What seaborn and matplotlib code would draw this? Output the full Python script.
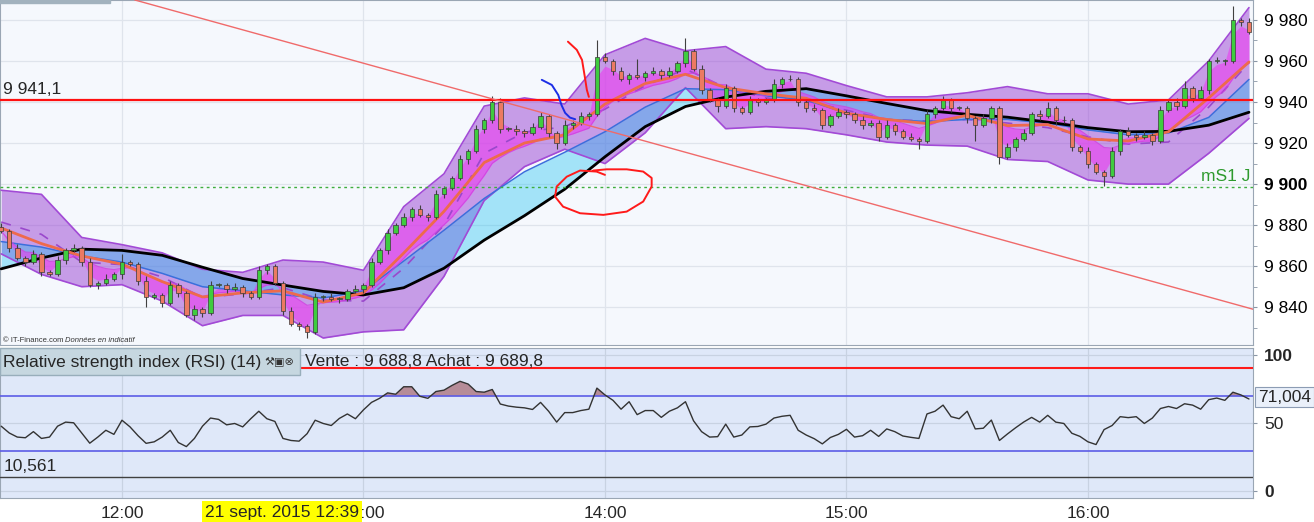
import numpy as np
import pandas as pd
import matplotlib
matplotlib.use("Agg")
import matplotlib.pyplot as plt
import matplotlib.dates as mdates
from matplotlib.patches import Rectangle
from matplotlib.ticker import MultipleLocator
import seaborn as sns

day = "2015-09-21"

# 2 minute candles from 11:30 (open of the first one, then closes)
first_open = 9879
closes = [9877, 9869, 9864, 9862, 9866, 9857, 9856, 9863, 9868, 9869,
          9862, 9851, 9852, 9854, 9856, 9862, 9861, 9853, 9845, 9846,
          9842, 9851, 9847, 9836, 9839, 9837, 9851, 9851, 9849, 9850,
          9847, 9845, 9858, 9860, 9852, 9838, 9832, 9831, 9828, 9845,
          9845, 9844, 9844, 9848, 9849, 9851, 9862, 9868, 9876, 9880,
          9884, 9888, 9885, 9884, 9895, 9898, 9903, 9912, 9916, 9927,
          9931, 9940, 9927, 9927, 9926, 9925, 9928, 9933, 9925, 9920,
          9929, 9930, 9933, 9934, 9962, 9960, 9955, 9951, 9953, 9952,
          9954, 9955, 9953, 9955, 9959, 9965, 9956, 9946, 9941, 9938,
          9947, 9937, 9935, 9941, 9940, 9941, 9949, 9951, 9951, 9940,
          9937, 9936, 9929, 9933, 9935, 9934, 9931, 9929, 9930, 9923,
          9929, 9926, 9923, 9922, 9921, 9934, 9937, 9941, 9937, 9937,
          9932, 9929, 9932, 9937, 9913, 9918, 9922, 9925, 9934, 9933,
          9937, 9931, 9931, 9918, 9916, 9910, 9906, 9904, 9916, 9926,
          9924, 9923, 9924, 9921, 9936, 9940, 9938, 9947, 9942, 9946,
          9960, 9960, 9960, 9980, 9979, 9974]
wick_hi = [2, 1, 2, 1, 2, 1, 1, 2, 1, 2,
           1, 2, 1, 2, 1, 4, 1, 1, 2, 1,
           1, 2, 1, 1, 2, 1, 2, 1, 1, 2,
           1, 1, 2, 1, 1, 1, 2, 1, 1, 2,
           1, 2, 1, 1, 2, 1, 2, 1, 2, 1,
           2, 1, 2, 1, 2, 1, 1, 2, 1, 2,
           1, 3, 2, 1, 2, 1, 2, 2, 1, 1,
           2, 1, 2, 1, 8, 2, 1, 2, 1, 8,
           1, 2, 1, 2, 1, 6, 1, 2, 1, 1,
           2, 1, 1, 2, 1, 1, 2, 1, 2, 1,
           1, 2, 1, 1, 2, 1, 1, 2, 1, 1,
           2, 1, 1, 2, 1, 2, 1, 2, 1, 1,
           1, 1, 2, 1, 1, 2, 1, 2, 1, 2,
           3, 1, 2, 1, 1, 2, 1, 1, 2, 1,
           2, 1, 2, 1, 2, 1, 2, 3, 1, 2,
           1, 2, 1, 7, 1, 2]
wick_lo = [1, 2, 1, 2, 1, 2, 1, 1, 2, 1,
           2, 1, 2, 1, 1, 2, 1, 2, 5, 1,
           2, 1, 2, 1, 2, 2, 1, 1, 2, 1,
           2, 1, 1, 2, 1, 2, 1, 2, 3, 1,
           2, 1, 2, 1, 1, 2, 1, 1, 2, 1,
           1, 2, 1, 2, 1, 2, 1, 1, 2, 1,
           2, 1, 2, 1, 2, 2, 1, 1, 2, 3,
           1, 2, 1, 2, 1, 1, 2, 1, 2, 1,
           2, 1, 2, 1, 1, 2, 1, 2, 1, 3,
           1, 2, 1, 1, 2, 1, 1, 2, 1, 2,
           2, 1, 2, 1, 1, 2, 1, 2, 1, 2,
           1, 2, 1, 1, 4, 1, 2, 1, 2, 1,
           2, 8, 1, 2, 3, 1, 2, 1, 1, 2,
           1, 2, 1, 2, 1, 2, 1, 5, 1, 2,
           1, 2, 1, 2, 1, 1, 2, 1, 2, 1,
           2, 1, 2, 1, 2, 1]

# indicators read every 10 minutes from 11:30
bb_up = [9897, 9895, 9874, 9870.5, 9866.5, 9858.5, 9857, 9863, 9862, 9858,
         9889, 9905, 9938, 9942, 9939, 9963, 9971, 9965, 9967, 9956,
         9954, 9948, 9942.5, 9942.5, 9944.5, 9947.5, 9944, 9944, 9939, 9941,
         9960, 9986]
bb_lo = [9866, 9856, 9850, 9851, 9843, 9831, 9836, 9836, 9825, 9828,
         9829, 9855, 9892, 9908.5, 9917, 9910, 9925, 9947, 9927, 9928,
         9927, 9924, 9920.5, 9919, 9918.5, 9912, 9911, 9902, 9900, 9900,
         9915, 9932]
ma_black = [9858.7, 9864, 9868.3, 9867.7, 9865.3, 9859.5, 9854, 9850.8, 9847.7, 9846,
            9849.5, 9859, 9872.7, 9884.6, 9897.5, 9913.3, 9928, 9937.8, 9942.4, 9945.2,
            9946.5, 9943, 9939.3, 9935.8, 9934, 9932.6, 9930.2, 9927.5, 9925.5, 9925.7,
            9928.7, 9935]
ma_blue = [9872, 9869.3, 9865, 9862, 9856.5, 9850, 9848, 9846, 9844.5, 9848,
           9862.5, 9877.5, 9893, 9906, 9915.5, 9925.5, 9937.5, 9946.5, 9946, 9943,
           9941, 9934.5, 9931.5, 9930.5, 9931.5, 9931.5, 9929.7, 9926.4, 9924, 9924.9,
           9932.5, 9951]
ema_orange = [9878.6, 9871, 9865, 9861, 9852.5, 9845, 9847, 9848, 9842.5, 9847,
              9866.4, 9886.7, 9910.5, 9920, 9924, 9939, 9949, 9953.5, 9947, 9944,
              9941.8, 9934.5, 9931.5, 9929.5, 9933.5, 9928.5, 9929, 9922, 9921, 9925.5,
              9942, 9959.5]

# RSI(14), one value per candle
rsi = [48, 43, 40, 39.5, 44, 39, 40, 48, 51, 50.5,
       43, 35.5, 40, 45, 42, 52.4, 47.5, 41, 35.4, 36.5,
       40, 45, 36, 33, 39, 48, 54, 53, 49, 50,
       47.5, 53.5, 59, 53.5, 51.5, 39, 37.5, 37, 42.5, 52.4,
       50, 48.5, 53.7, 57, 53.5, 60, 65.5, 68.5, 72.5, 71.5,
       77, 77, 70, 68.5, 73.5, 74.5, 78, 81, 79, 73.5,
       73, 75, 64.3, 62.8, 62, 61.5, 60.3, 65.5, 59, 51,
       58, 58, 59.5, 60.5, 76, 71, 67, 60.5, 66, 56.5,
       59.5, 59.5, 54.5, 59, 61.5, 66, 52, 44, 40, 40.3,
       49.5, 40, 41.5, 47.5, 47.8, 49.5, 54, 55.3, 56, 45,
       41.5, 38.8, 35, 39.7, 42, 45.7, 40, 41, 45, 40.5,
       46, 44, 40.8, 39.8, 39, 57, 59, 63.5, 55, 53.5,
       59, 46, 46.5, 52.5, 37.5, 42.3, 46.8, 51, 54.5, 51,
       56, 51, 50, 42.8, 40.5, 36.5, 34.5, 45.5, 48.5, 55,
       54.3, 55, 50, 54, 61, 62.5, 61, 64.5, 63.5, 60.5,
       67.5, 68.7, 67, 73, 71, 68]

level_res = 9941.1
level_ms1 = 9898.5
trend_min = [3.2, 280.7]          # minutes after 12:00
trend_price = [9989.7, 9839.2]
rsi_red, rsi_hi, rsi_lo, rsi_min = 91, 70, 30, 10.561

# hand drawn marks (minutes after 12:00, price)
arc_min = [110.8, 113.0, 114.3, 115.0, 115.5, 116.0]
arc_price = [9969.4, 9965.4, 9960.5, 9952.2, 9945.9, 9942.5]
hook_min = [104.3, 106.8, 108.4, 109.2, 110.1, 111.3, 112.6]
hook_price = [9950.8, 9948.3, 9943.4, 9938.5, 9934.7, 9932.4, 9931.6]
ring_min = [120.0, 117.9, 113.8, 110.5, 108.0, 107.6, 109.6, 113.8, 119.6,
            125.4, 129.5, 131.6, 131.6, 129.5, 125.4, 120.4, 117.1]
ring_price = [9904.5, 9906.1, 9906.6, 9903.6, 9898.8, 9893.9, 9889.0, 9885.8,
              9885.0, 9886.6, 9891.5, 9898.8, 9903.0, 9906.1, 9907.2, 9907.2, 9906.6]

price_ticks = [9840, 9860, 9880, 9900, 9920, 9940, 9960, 9980]

# ---------------------------------------------------------------
base = pd.Timestamp(f"{day} 12:00")


def at(minutes):
    return mdates.date2num(base + pd.to_timedelta(np.asarray(minutes, dtype=float), unit="min"))


t_c = mdates.date2num(pd.date_range(f"{day} 11:30", periods=len(closes), freq="2min"))
t_i = mdates.date2num(pd.date_range(f"{day} 11:30", periods=len(bb_up), freq="10min"))

c = np.array(closes, dtype=float)
o = np.r_[first_open, c[:-1]]
top = np.maximum(o, c)
bot = np.minimum(o, c)
hi = top + np.array(wick_hi)
lo = bot - np.array(wick_lo)
up_c = c >= o

fast = pd.Series(c).ewm(span=2).mean().values
slow = pd.Series(c).ewm(span=11).mean().values
up = np.array(bb_up)
low = np.array(bb_lo)
mid = (up + low) / 2
rsi_v = np.array(rsi, dtype=float)

sns.set_style("white")
plt.rcParams["font.family"] = ["Liberation Sans", "DejaVu Sans"]
FS = 12.5

W, H = 1314, 522
fig = plt.figure(figsize=(W / 100, H / 100), dpi=100)
ax = fig.add_axes([0.0, 1 - 345 / H, 1253 / W, 345 / H])
ax2 = fig.add_axes([0.0, 1 - 498 / H, 1253 / W, 150 / H], sharex=ax)


def px(x, y):
    return x / W, 1 - y / H


# main panel
ax.set_facecolor("#f5f8fd")
ax.set_xlim(at(-30.3), at(281.0))
ax.set_ylim(9821.6, 9989.7)
ax.grid(True, color="#dfe4ec", lw=0.9)
ax.set_axisbelow(True)

ax.fill_between(t_i, up, low, color=(150 / 255, 60 / 255, 210 / 255), alpha=0.49, lw=0, zorder=1)
ax.fill_between(t_i, np.array(ma_blue), np.array(ma_black), color=(12 / 255, 189 / 255, 241 / 255),
                alpha=0.35, lw=0, zorder=2)
ax.fill_between(t_c, fast, slow, color=(235 / 255, 60 / 255, 240 / 255), alpha=0.6, lw=0, zorder=3)
sns.lineplot(x=t_i, y=up, ax=ax, color="#a24ad6", lw=1.2, zorder=4)
sns.lineplot(x=t_i, y=low, ax=ax, color="#a24ad6", lw=1.2, zorder=4)
ax.plot(t_i, mid, color="#9a48cc", lw=1.2, dashes=(6, 6), zorder=4)
sns.lineplot(x=t_i, y=ma_blue, ax=ax, color="#3b6fdc", lw=1.1, zorder=4)
sns.lineplot(x=t_i, y=ma_black, ax=ax, color="black", lw=2.0, zorder=5)
sns.lineplot(x=t_i, y=ema_orange, ax=ax, color="#ee6a4c", lw=2.0, zorder=5)
ax.plot(t_c, slow, color="#d040e0", lw=0.8, alpha=0.8, zorder=4)

# candles
w = 1.1 / 1440
ax.vlines(t_c, lo, hi, color="#404040", lw=0.8, zorder=6)
ax.bar(t_c, np.maximum(top - bot, 0.4), width=w, bottom=bot,
       color=np.where(up_c, "#3fcc3f", "#ec7a62"), edgecolor="#3a3a3a", lw=0.5, zorder=7)

ax.axhline(level_res, color="#ff1010", lw=1.6, zorder=8)
ax.axhline(level_ms1, color="#3fae3f", lw=1.0, ls=(0, (2, 2.5)), zorder=8)
ax.axline((at(trend_min[0]), trend_price[0]), (at(trend_min[1]), trend_price[1]),
          color="#f06a6a", lw=1.0, zorder=8)

ax.plot(at(arc_min), arc_price, color="#ff1a1a", lw=1.4, zorder=9, solid_capstyle="round")
ax.plot(at(hook_min), hook_price, color="#1c2ee6", lw=1.4, zorder=9, solid_capstyle="round")
ax.plot(at(ring_min), ring_price, color="#ff1a1a", lw=1.4, zorder=9, solid_capstyle="round")

ax.yaxis.tick_right()
ax.set_yticks(price_ticks, [f"{v:,}".replace(",", " ") for v in price_ticks])
ax.yaxis.set_minor_locator(MultipleLocator(10))
ax.tick_params(axis="y", which="both", direction="out", length=3, color="#8a96a6",
               pad=5, labelsize=FS, labelcolor="black")
for lab in ax.get_yticklabels():
    if lab.get_text() == "9 900":
        lab.set_fontweight("bold")
ax.tick_params(axis="x", which="both", bottom=False, labelbottom=False)
for s in ax.spines.values():
    s.set_color("#9aa6b4")

ax.text(0.002, level_res + 1.5, "9 941,1", transform=ax.get_yaxis_transform(),
        fontsize=FS, va="bottom", ha="left")
ax.text(0.998, level_ms1 + 1.5, "mS1 J", transform=ax.get_yaxis_transform(),
        fontsize=FS, va="bottom", ha="right", color="#2e9a2e")

# RSI panel
ax2.set_facecolor("#dfe8f9")
ax2.set_ylim(-4.8, 105.5)
ax2.grid(True, color="#c8d2e2", lw=0.9)
ax2.set_axisbelow(True)
ax2.fill_between(t_c, rsi_v, rsi_hi, where=rsi_v > rsi_hi, interpolate=True,
                 color="#b68c98", lw=0, zorder=2)
ax2.axhline(rsi_red, color="#ff1a1a", lw=1.5, zorder=3)
ax2.axhline(rsi_hi, color="#5c5ce6", lw=1.2, zorder=3)
ax2.axhline(rsi_lo, color="#5c5ce6", lw=1.2, zorder=3)
ax2.axhline(rsi_min, color="#404040", lw=1.0, zorder=3)
sns.lineplot(x=t_c, y=rsi_v, ax=ax2, color="#333333", lw=1.0, zorder=4)

ax2.yaxis.tick_right()
ax2.set_yticks([0, 50, 100], ["0", "50", "100"])
ax2.tick_params(axis="y", direction="out", length=3, color="#8a96a6", pad=5,
                labelsize=FS)
for lab in ax2.get_yticklabels():
    if lab.get_text() in ("0", "100"):
        lab.set_fontweight("bold")
ax2.xaxis.set_major_locator(mdates.HourLocator())
ax2.xaxis.set_major_formatter(mdates.DateFormatter("%H:%M"))
ax2.tick_params(axis="x", direction="out", length=3, color="#8a96a6", pad=3, labelsize=FS)
for s in ax2.spines.values():
    s.set_color("#9aa6b4")
ax2.set_xlabel("")
ax2.set_ylabel("")
ax.set_xlabel("")
ax.set_ylabel("")

ax2.text(0.003, rsi_min + 2, "10,561", transform=ax2.get_yaxis_transform(),
         fontsize=FS, va="bottom", ha="left")

# chrome and labels
fig.patches.append(Rectangle(px(0, 3), 110 / W, 3 / H, transform=fig.transFigure,
                             color="#a2b2be", zorder=5))
fig.patches.append(Rectangle(px(0, 375), 300 / W, 27 / H, transform=fig.transFigure,
                             facecolor="#c6d7e0", edgecolor="#98aebb", lw=1, zorder=5))
fig.text(*px(3, 362), "Relative strength index (RSI) (14)", fontsize=FS, va="center", zorder=6)
fig.text(*px(264, 361), "\u2692\u25a3\u2297", fontsize=8, va="center", color="#333333", zorder=6)
fig.text(*px(305, 361), "Vente : 9 688,8 Achat : 9 689,8", fontsize=FS, va="center", zorder=6)
fig.text(*px(3, 340), "\u00a9 IT-Finance.com", fontsize=5.5, va="center", color="#333333")
fig.text(*px(65, 340), "Donn\u00e9es en indicatif", fontsize=5.5, va="center",
         style="italic", color="#333333")
fig.text(*px(1258, 397), "71,004", fontsize=FS, va="center", ha="left",
         bbox=dict(boxstyle="square,pad=0.15", facecolor="#eaf0fa", edgecolor="#8c9cb4", lw=0.8))
fig.text(*px(205, 512), "21 sept. 2015 12:39", fontsize=FS, va="center", ha="left",
         bbox=dict(boxstyle="square,pad=0.2", facecolor="#ffff00", edgecolor="none"), zorder=10)

fig.savefig("out.png", dpi=100, facecolor="white")
